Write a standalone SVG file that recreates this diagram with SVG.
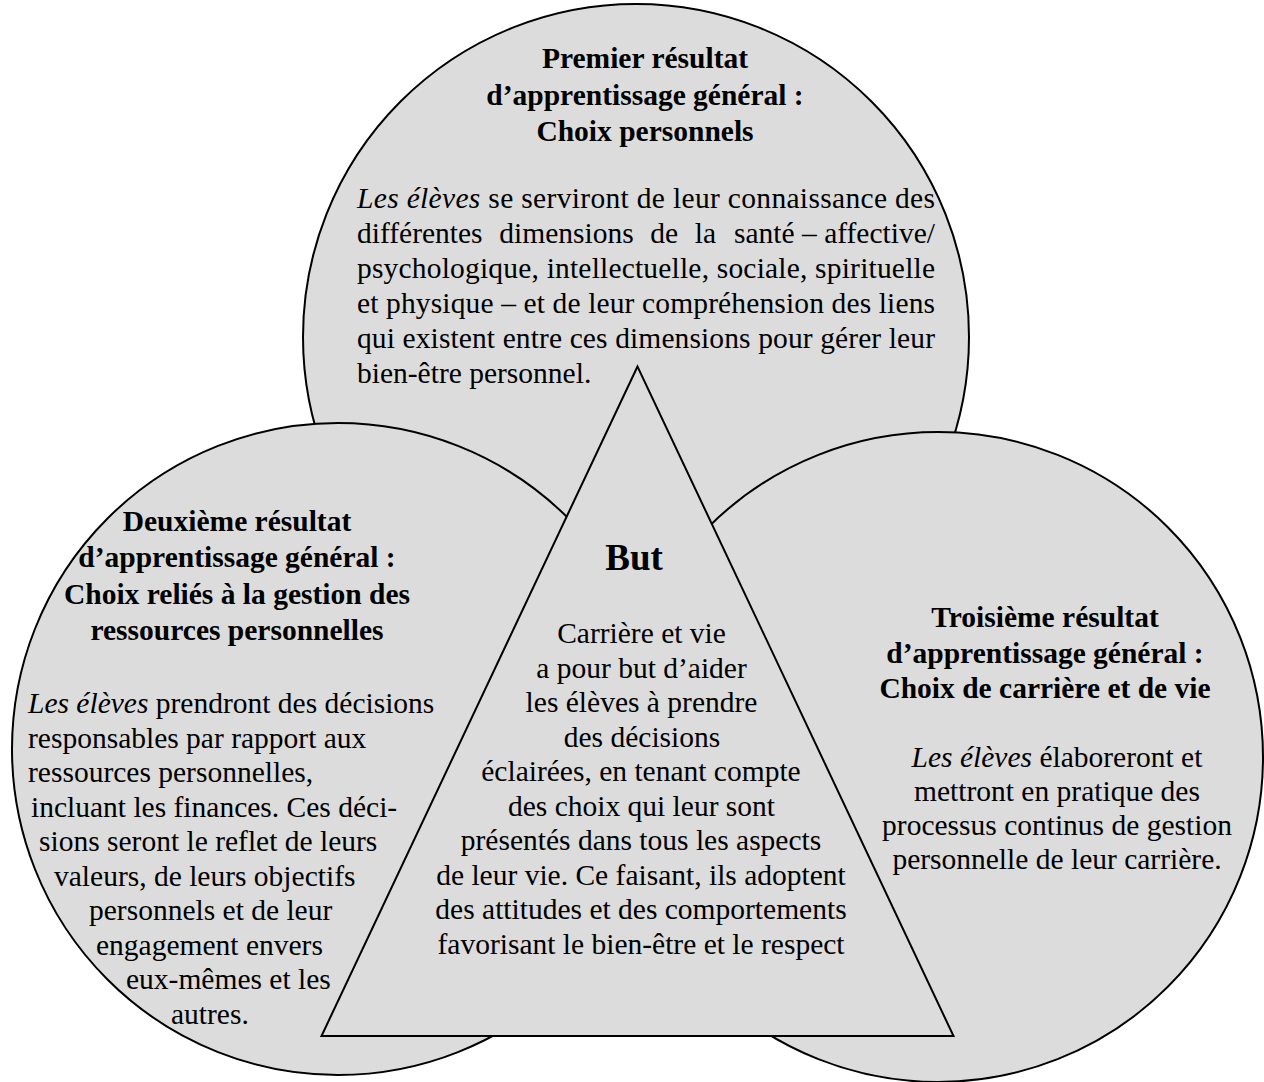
<svg xmlns="http://www.w3.org/2000/svg" width="1264" height="1082" viewBox="0 0 1264 1082">
<style>
.shape{fill:#dcdcdc;stroke:#000;stroke-width:2}
text{font-family:"Liberation Serif","Times New Roman",serif;font-size:29.5px;fill:#000}
.t{font-weight:bold}
.c{text-anchor:middle}
.i{font-style:italic}
</style>
<rect width="1264" height="1082" fill="#fff"/>
<g id="circle-premier">
<circle class="shape" cx="636" cy="337" r="333"/>
</g>
<g id="circle-deuxieme">
<circle class="shape" cx="338" cy="749" r="326"/>
</g>
<g id="circle-troisieme">
<circle class="shape" cx="938" cy="757" r="325"/>
</g>
<g id="triangle-but">
<polygon class="shape" points="637.5,366.5 321.5,1036 953.5,1036"/>
</g>
<g id="connectors"></g>
<g id="text-premier">
<text class="t c" x="645" y="68">Premier résultat</text>
<text class="t c" x="645" y="105">d’apprentissage général :</text>
<text class="t c" x="645" y="141">Choix personnels</text>
<text x="357" y="208" textLength="578" lengthAdjust="spacing"><tspan class="i">Les élèves</tspan> se serviront de leur connaissance des</text>
<text x="357" y="243" style="word-spacing:9.3px">différentes dimensions de la</text>
<text x="935" y="243" style="text-anchor:end">santé – affective/</text>
<text x="357" y="278" textLength="578" lengthAdjust="spacing">psychologique, intellectuelle, sociale, spirituelle</text>
<text x="357" y="313" textLength="578" lengthAdjust="spacing">et physique – et de leur compréhension des liens</text>
<text x="357" y="348" textLength="578" lengthAdjust="spacing">qui existent entre ces dimensions pour gérer leur</text>
<text x="357" y="383">bien-être personnel.</text>
</g>
<g id="text-deuxieme">
<text class="t c" x="237" y="531">Deuxième résultat</text>
<text class="t c" x="237" y="567">d’apprentissage général :</text>
<text class="t c" x="237" y="604">Choix reliés à la gestion des</text>
<text class="t c" x="237" y="640">ressources personnelles</text>
<text x="28" y="713"><tspan class="i">Les élèves</tspan> prendront des décisions</text>
<text x="28" y="747.5">responsables par rapport aux</text>
<text x="28" y="782">ressources personnelles,</text>
<text x="31" y="816.5">incluant les finances. Ces déci-</text>
<text x="39" y="851">sions seront le reflet de leurs</text>
<text x="54" y="885.5">valeurs, de leurs objectifs</text>
<text x="89" y="920">personnels et de leur</text>
<text x="96" y="954.5">engagement envers</text>
<text x="126" y="989">eux-mêmes et les</text>
<text x="171" y="1023.5">autres.</text>
</g>
<g id="text-but">
<text class="t c" x="634" y="570" style="font-size:37px">But</text>
<text class="c" x="641.5" y="643">Carrière et vie</text>
<text class="c" x="641.5" y="677.5">a pour but d’aider</text>
<text class="c" x="641.5" y="712">les élèves à prendre</text>
<text class="c" x="642" y="746.5">des décisions</text>
<text class="c" x="641" y="781">éclairées, en tenant compte</text>
<text class="c" x="641.5" y="815.5">des choix qui leur sont</text>
<text class="c" x="641" y="850">présentés dans tous les aspects</text>
<text class="c" x="641" y="884.5">de leur vie. Ce faisant, ils adoptent</text>
<text class="c" x="641" y="919">des attitudes et des comportements</text>
<text class="c" x="641" y="953.5">favorisant le bien-être et le respect</text>
</g>
<g id="text-troisieme">
<text class="t c" x="1045" y="627">Troisième résultat</text>
<text class="t c" x="1045" y="663">d’apprentissage général :</text>
<text class="t c" x="1045" y="698">Choix de carrière et de vie</text>
<text class="c" x="1057" y="767"><tspan class="i">Les élèves</tspan> élaboreront et</text>
<text class="c" x="1057" y="801">mettront en pratique des</text>
<text class="c" x="1057" y="835">processus continus de gestion</text>
<text class="c" x="1057" y="869">personnelle de leur carrière.</text>
</g>
</svg>
